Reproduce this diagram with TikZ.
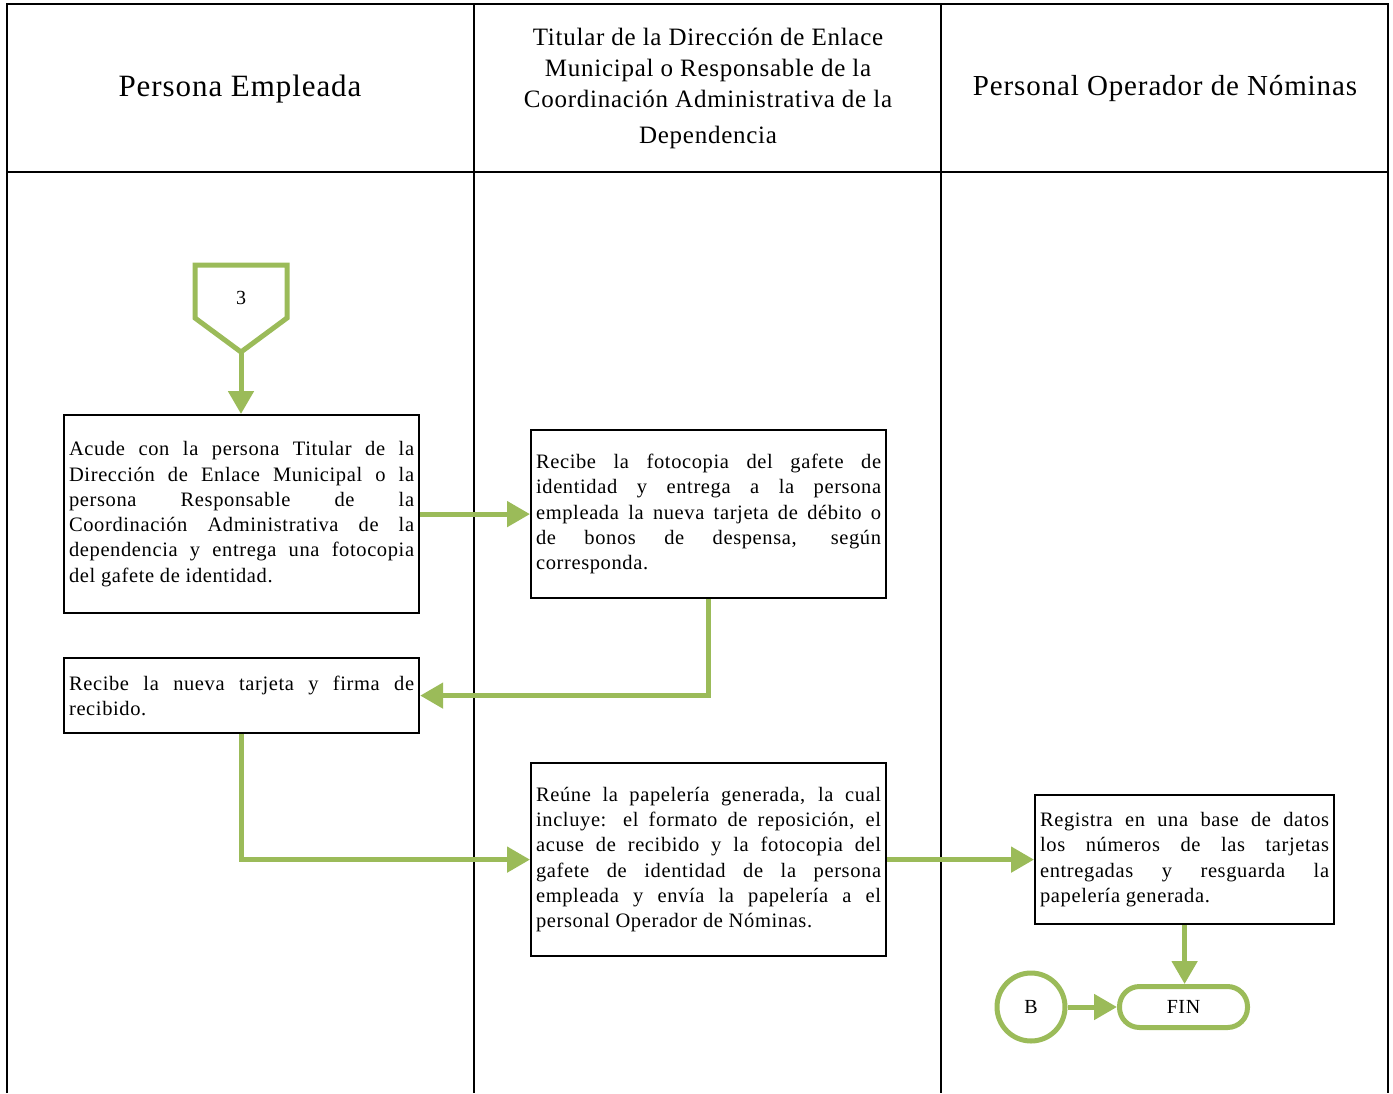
\documentclass[tikz,border=0pt]{standalone}
\usepackage{fontspec}
\setmainfont{Liberation Serif}[LetterSpace=3]
\usetikzlibrary{arrows.meta,shapes.geometric}
\definecolor{grn}{HTML}{9BBB59}
\begin{document}
\begin{tikzpicture}[x=1pt,y=-1pt,
  frame/.style={line width=2.5pt,black},
  procbox/.style={draw,line width=2.2pt,inner sep=5pt,align=justify,
     font=\fontsize{20.5}{25.3}\selectfont,anchor=north west},
  flow/.style={draw=grn,line width=5pt,-{Triangle[length=23pt,width=25pt]}},
  hdr/.style={align=center}]
\useasboundingbox (0,0) rectangle (1393,1093);
% frame
\draw[frame] (7,1093) -- (7,4) -- (1388,4) -- (1388,1093);
\draw[frame] (7,172) -- (1388,172);
\draw[frame] (474,4) -- (474,1093);
\draw[frame] (941,4) -- (941,1093);
% headers
\node[hdr,font=\fontsize{31}{36}\selectfont] (h1) at (240,89) {Persona Empleada};
\node[hdr,font=\fontsize{25}{31}\selectfont] (h2) at (708,88)
  {Titular de la Dirección de Enlace\\Municipal o Responsable de la\\Coordinación Administrativa de la\\[5pt]Dependencia};
\node[hdr,font=\fontsize{29}{36}\selectfont] (h3) at (1165,89) {Personal Operador de Nóminas};
% off-page connector
\draw[grn,line width=5pt,line join=miter] (195,265) -- (287,265) -- (287,318) -- (241,352) -- (195,318) -- cycle;
\node[font=\fontsize{20}{23}\selectfont] (c3) at (241,298) {3};
\coordinate (c3tip) at (241,352);
% boxes
\node[procbox,text width=345pt,minimum height=198pt] (b1) at (63,414)
  {Acude con la persona Titular de la\linebreak
   Dirección de Enlace Municipal o la\linebreak
   persona Responsable de la\linebreak
   Coordinación Administrativa de la\linebreak
   dependencia y entrega una fotocopia\linebreak
   del gafete de identidad.};
\node[procbox,text width=345pt,minimum height=168pt] (b2) at (530,429)
  {Recibe la fotocopia del gafete de\linebreak
   identidad y entrega a la persona\linebreak
   empleada la nueva tarjeta de débito o\linebreak
   de bonos de despensa, según\linebreak
   corresponda.};
\node[procbox,text width=345pt,minimum height=75pt] (b3) at (63,657)
  {Recibe la nueva tarjeta y firma de\linebreak
   recibido.};
\node[procbox,text width=345pt,minimum height=193pt] (b4) at (530,762)
  {Reúne la papelería generada, la cual\linebreak
   incluye: el formato de reposición, el\linebreak
   acuse de recibido y la fotocopia del\linebreak
   gafete de identidad de la persona\linebreak
   empleada y envía la papelería a el\linebreak
   personal Operador de Nóminas.};
\node[procbox,text width=289pt,minimum height=129pt] (b5) at (1034,794)
  {Registra en una base de datos\linebreak
   los números de las tarjetas\linebreak
   entregadas y resguarda la\linebreak
   papelería generada.};
\node[draw=grn,line width=5pt,rounded corners=20pt,minimum width=128pt,minimum height=41pt,
  font=\fontsize{20}{23}\selectfont] (fin) at (1183.5,1007) {FIN};
\node[draw=grn,line width=5pt,circle,minimum size=68pt,inner sep=0pt,
  font=\fontsize{20}{23}\selectfont] (cb) at (1031,1007) {B};
% connectors
\draw[flow] (c3tip) -- (c3tip |- b1.north);
\draw[flow] (b1.east) -- (b2.west);
\draw[flow] (b2.south) |- (b3.east);
\draw[flow] (b3.south) |- (b4.west);
\draw[flow] (b4.east) -- (b5.west);
\draw[flow] (b5.south) -- (b5.south |- fin.north);
\draw[flow] (cb.east) -- (fin.west);
\end{tikzpicture}
\end{document}
